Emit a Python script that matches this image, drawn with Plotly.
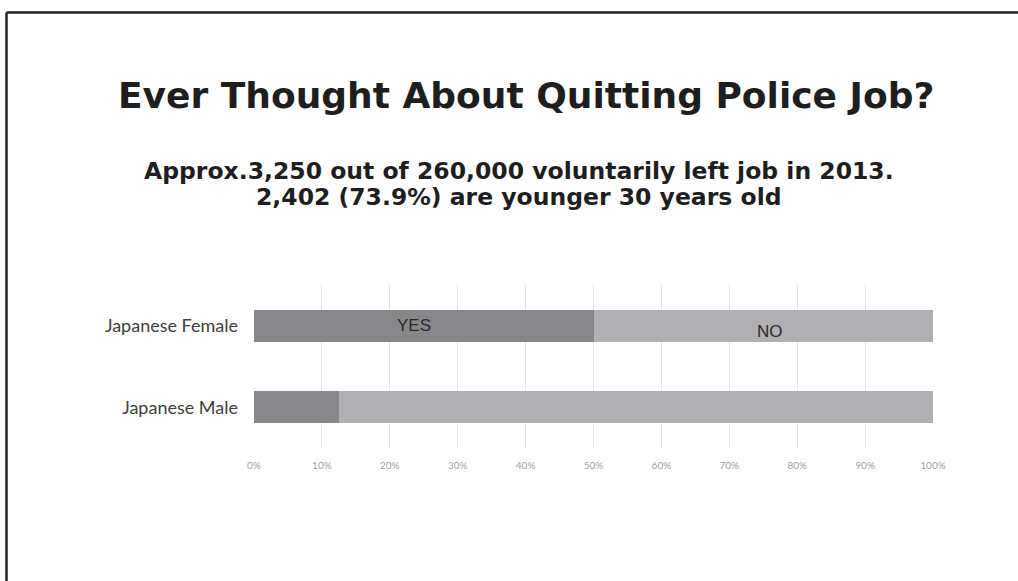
import plotly.graph_objects as go

categories = ["Japanese Male", "Japanese Female"]
yes_pct = [12.5, 50.0]
no_pct = [87.5, 50.0]
x_ticks = [0, 10, 20, 30, 40, 50, 60, 70, 80, 90, 100]
x_tick_labels = [f"{t}%" for t in x_ticks]

title_text = "Ever Thought About Quitting Police Job?"
subtitle_lines = [
    "Approx.3,250 out of 260,000 voluntarily left job in 2013.",
    "2,402 (73.9%) are younger 30 years old",
]

W, H = 1018, 581
L, R, T, B = 254, 85, 285, 133
pw, ph = W - L - R, H - T - B


def px_x(x):
    return (x - L) / pw


def px_y(y):
    return (H - B - y) / ph


fig = go.Figure()
fig.add_trace(go.Bar(
    y=categories, x=yes_pct, name="YES", orientation="h",
    marker=dict(color="#87878a", line=dict(width=0)), width=0.39,
))
fig.add_trace(go.Bar(
    y=categories, x=no_pct, name="NO", orientation="h",
    marker=dict(color="#b0b0b3", line=dict(width=0)), width=0.39,
))

annotations = [
    dict(text=title_text, x=px_x(526), y=px_y(95), xref="paper", yref="paper",
         showarrow=False, xanchor="center", yanchor="middle",
         font=dict(family="DejaVu Sans", size=36, color="#1e1e1e", weight="bold")),
    dict(text=subtitle_lines[0], x=px_x(519), y=px_y(171), xref="paper", yref="paper",
         showarrow=False, xanchor="center", yanchor="middle", borderpad=0,
         font=dict(family="DejaVu Sans", size=23.5, color="#1e1e1e", weight="bold")),
    dict(text=subtitle_lines[1], x=px_x(519), y=px_y(197), xref="paper", yref="paper",
         showarrow=False, xanchor="center", yanchor="middle", borderpad=0,
         font=dict(family="DejaVu Sans", size=23.5, color="#1e1e1e", weight="bold")),
    # segment labels on the female bar
    dict(text="YES", x=yes_pct[1] / 2 - 1.5, y=categories[1], xref="x", yref="y",
         showarrow=False, xanchor="center", yanchor="middle",
         font=dict(family="Liberation Sans", size=17, color="#2a2a2a")),
    dict(text="NO", x=yes_pct[1] + no_pct[1] / 2 + 1, y=categories[1], xref="x", yref="y",
         showarrow=False, xanchor="center", yanchor="middle", yshift=-6,
         font=dict(family="Liberation Sans", size=17, color="#2a2a2a")),
]

# outer frame: top and left edges
shapes = [
    dict(type="line", xref="paper", yref="paper",
         x0=px_x(6.5), x1=px_x(1020), y0=px_y(12.5), y1=px_y(12.5),
         line=dict(color="#222222", width=2.5)),
    dict(type="line", xref="paper", yref="paper",
         x0=px_x(6.5), x1=px_x(6.5), y0=px_y(12.5), y1=px_y(585),
         line=dict(color="#222222", width=2.5)),
]

fig.update_layout(
    barmode="stack",
    width=W, height=H,
    margin=dict(l=L, r=R, t=T, b=B, pad=0),
    paper_bgcolor="white", plot_bgcolor="white",
    showlegend=False,
    annotations=annotations,
    shapes=shapes,
    xaxis=dict(
        range=[0, 100], tickvals=x_ticks, ticktext=x_tick_labels,
        showgrid=True, gridcolor="#e4e4e4", gridwidth=1,
        zeroline=False, showline=False, ticks="",
        tickfont=dict(family="Lato", size=10, color="#a0a0a0"),
        ticklabelstandoff=10,
    ),
    yaxis=dict(
        range=[-0.5, 1.5], showgrid=False, zeroline=False, showline=False,
        ticks="", ticklabelstandoff=15,
        tickfont=dict(family="Lato", size=18, color="#404040"),
    ),
)

fig.write_html("out.html")
